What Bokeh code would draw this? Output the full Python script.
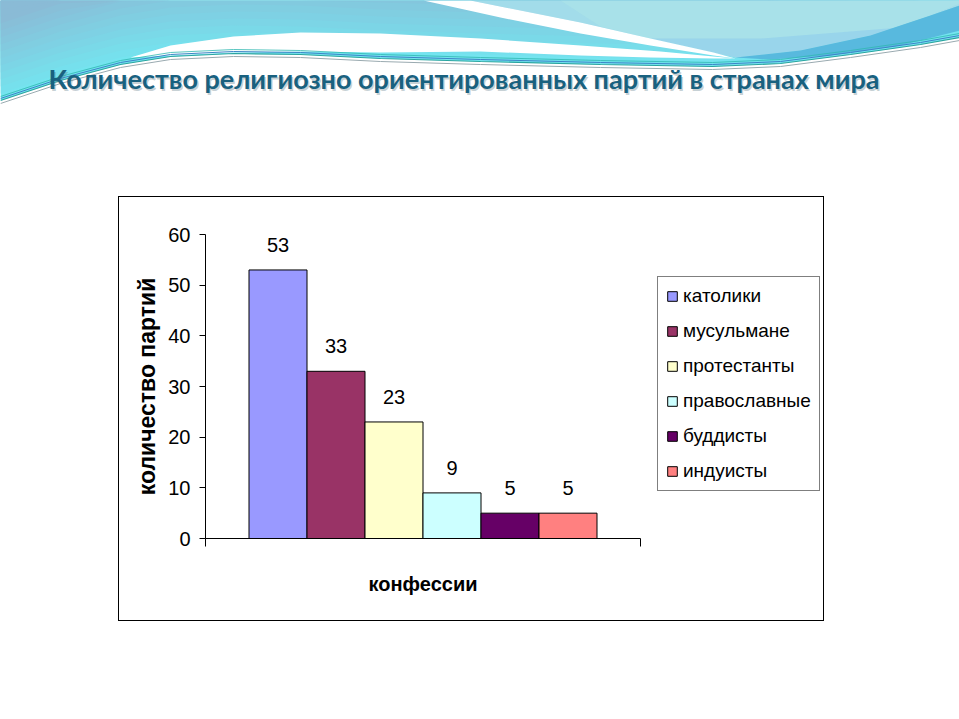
from bokeh.plotting import figure
from bokeh.models import (Range1d, FixedTicker, ColumnDataSource, Legend, LegendItem, Spacer, Title)
from bokeh.layouts import column, row
from bokeh.core.properties import value
from bokeh.embed import file_html
from bokeh.resources import INLINE

# ---------------- data ----------------
TITLE = "Количество религиозно ориентированных партий в странах мира"
confessions = ["католики", "мусульмане", "протестанты", "православные", "буддисты", "индуисты"]
legend_labels = ["католики", "мусульмане", "протестанты", "православные", "буддисты", "индуисты"]
party_counts = [53, 33, 23, 9, 5, 5]
bar_colors = ["#9999FF", "#993366", "#FFFFCC", "#CCFFFF", "#660066", "#FF8080"]
y_ticks = [0, 10, 20, 30, 40, 50, 60]
x_label = "конфессии"
y_label = "количество партий"

FONT = "Liberation Sans"

# ---------------- decorative slide header ----------------
W, HT = 959, 196
top = figure(width=W, height=HT, x_range=Range1d(0, W), y_range=Range1d(HT, 0),
             toolbar_location=None, output_backend="svg", min_border=0)
top.axis.visible = False
top.grid.visible = False
top.outline_line_color = None
top.background_fill_color = "white"
top.border_fill_color = "white"


def mix(c1, c2, t):
    a = [int(c1[i:i + 2], 16) for i in (1, 3, 5)]
    b = [int(c2[i:i + 2], 16) for i in (1, 3, 5)]
    return "#%02x%02x%02x" % tuple(int(round(a[k] + (b[k] - a[k]) * t)) for k in range(3))


# lower edge of the main wave (where the thin lines run)
lx = [0, 60, 120, 170, 233, 300, 380, 480, 600, 712, 780, 850, 920, 959]
ly = [100, 80, 64, 56, 53, 54, 58, 61, 64, 66, 63, 54, 44, 37]

nb, step = 14, 7
for k in range(0, nb + 1):
    y2 = [max(v - k * step, 0) for v in ly]
    col = mix("#74E4EF", "#8ABBD6", min(k / (nb - 3), 1.0))
    top.varea(x=lx, y1=[0] * len(lx), y2=y2, fill_color=col)

# white crescent between the two waves
cx = [130, 170, 233, 300, 380, 480, 580, 660, 713, 735, 713, 650, 580, 480, 380, 300, 233, 170]
cy = [57, 45, 36, 32, 33, 38, 45, 51, 56, 58, 58, 57, 55, 51, 52, 51, 52, 55]
top.patch(cx, cy, fill_color="white", line_color=None)

# light wave in the upper right
wx = [470, 580, 650, 713, 735, 800, 870, 930, 959, 959]
wy = [0, 22, 38, 52, 57, 50, 35, 15, 5, 0]
top.patch(wx, wy, fill_color="#A2DCEA", line_color=None)
top.patch([560, 959, 959, 930, 870, 800, 735, 713, 650, 600],
          [0, 0, 3, 15, 35, 50, 57, 52, 38, 26], fill_color="#ACE4E8", fill_alpha=0.6, line_color=None)
top.patch([650, 713, 735, 800, 870, 900, 760], [38, 52, 57, 50, 35, 27, 38],
          fill_color="#8FCDEC", fill_alpha=0.6, line_color=None)

# upper white swoosh
sx = [423, 500, 580, 650, 713, 735, 713, 650, 580, 470]
sy = [0, 17, 33, 45, 55, 58, 52, 38, 22, 0]
top.patch(sx, sy, fill_color="white", line_color=None)

# blue ribbon on the right
top.patch([735, 800, 870, 930, 959, 959, 900, 830, 770],
          [57, 50, 35, 15, 5, 30, 45, 55, 59], fill_color="#58B9DE", line_color=None)

# thin lines
for dy, c, w in [(0, "#2AA5A0", 1.2), (3, "#9AAAB0", 1.0), (-2, "#3D84C6", 1.0), (-4, "#2FB8B0", 0.8)]:
    top.line(lx, [v + dy for v in ly], line_color=c, line_width=w)

# title with soft shadow
top.text(x=[465], y=[79.5], text=[TITLE], text_font=value("Lato"), text_font_style="bold",
         text_font_size="27px", text_color="#5D7A86", text_alpha=0.35,
         text_align="center", text_baseline="middle")
top.text(x=[463.5], y=[78], text=[TITLE], text_font=value("Lato"), text_font_style="bold",
         text_font_size="27px", text_color="#19617F",
         text_align="center", text_baseline="middle")

# ---------------- chart ----------------
PW, PH = 704, 423          # chart figure (inside 1px black frame)
LEFT, TOP_B, BOTTOM = 86, 37, 82
BAR_AREA_PX = 435          # width of the plotting area holding the bars
FRAME_PX = PW - LEFT       # frame extends right so the legend can sit inside it

n = len(confessions)
xs = [i - (n - 1) / 2 for i in range(n)]
half = n / 2 + 0.75
x_end = -half + 2 * half * FRAME_PX / BAR_AREA_PX
src = ColumnDataSource(dict(x=xs, top=party_counts, color=bar_colors, cat=legend_labels,
                            lbl=[str(v) for v in party_counts]))

p = figure(width=PW, height=PH, x_range=Range1d(-half, x_end), y_range=Range1d(0, 60),
           toolbar_location=None, output_backend="svg",
           min_border_left=LEFT, min_border_right=0, min_border_top=TOP_B, min_border_bottom=BOTTOM)
p.grid.visible = False
p.outline_line_color = None
p.background_fill_color = "white"
p.border_fill_color = "white"

r = p.vbar(x="x", top="top", width=1.0, bottom=0, fill_color="color", line_color="black",
           line_width=1, source=src)

p.text(x="x", y="top", text="lbl", source=src, text_align="center", text_baseline="bottom",
       y_offset=-18, text_font=value(FONT), text_font_size="20px", text_color="black")

# y axis
ya = p.yaxis[0]
ya.ticker = FixedTicker(ticks=y_ticks)
ya.major_tick_in = 0
ya.major_tick_out = 6
ya.minor_tick_line_color = None
ya.axis_line_color = "black"
ya.major_tick_line_color = "black"
ya.major_label_text_font = FONT
ya.major_label_text_font_size = "20px"
ya.major_label_text_color = "black"
ya.major_label_standoff = 9
ya.axis_label = y_label
ya.axis_label_text_font = FONT
ya.axis_label_text_font_style = "bold"
ya.axis_label_text_font_size = "23px"
ya.axis_label_text_color = "black"
ya.axis_label_standoff = 5

# x axis (limited to the bar area)
xa = p.xaxis[0]
xa.bounds = (-half, half)
xa.ticker = FixedTicker(ticks=[-half, half])
xa.major_tick_in = 0
xa.major_tick_out = 8
xa.minor_tick_line_color = None
xa.axis_line_color = "black"
xa.major_tick_line_color = "black"
xa.major_label_text_font_size = "0px"
xa.major_label_standoff = 0

# x axis title, centred under the bar area (left-aligned with an offset)
xt = Title(text=x_label, align="left", offset=163, text_font=FONT, text_font_style="bold",
           text_font_size="20px", text_color="black", standoff=48)
p.add_layout(xt, "below")

items = [LegendItem(label=lab, renderers=[r], index=i) for i, lab in enumerate(legend_labels)]
legend = Legend(items=items, location=(452, 47), orientation="vertical")
legend.glyph_width = 12
legend.glyph_height = 12
legend.label_standoff = 5
legend.label_text_font = FONT
legend.label_text_font_size = "19px"
legend.label_text_color = "black"
legend.label_height = 21
legend.spacing = 13
legend.padding = 8
legend.margin = 0
legend.border_line_color = "black"
legend.border_line_width = 1
legend.background_fill_color = "white"
legend.background_fill_alpha = 1.0
p.add_layout(legend)

inner = column(p, background="white", margin=(1, 1, 1, 1))
box = column(inner, background="black")
page = column(top, row(Spacer(width=118, height=425), box))

open("out.html", "w").write(file_html(page, INLINE))
